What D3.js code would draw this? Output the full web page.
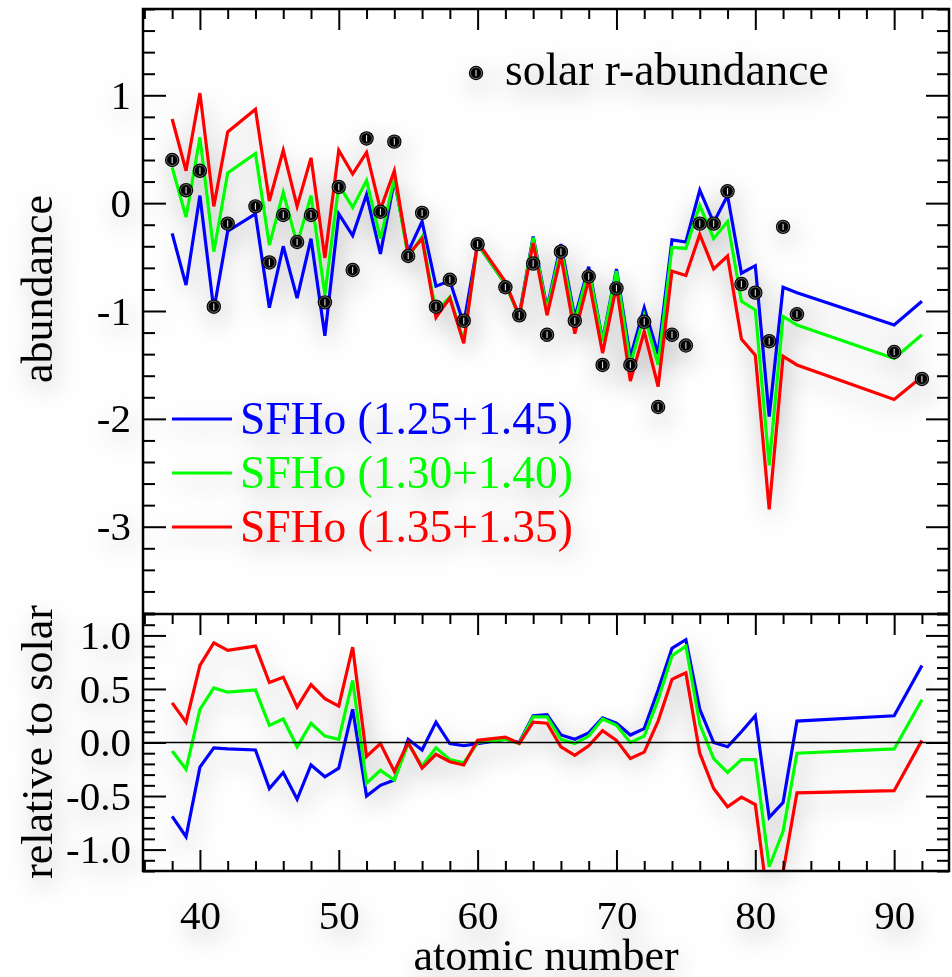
<!DOCTYPE html>
<html>
<head>
<meta charset="utf-8">
<script src="https://cdn.jsdelivr.net/npm/d3@7/dist/d3.min.js"></script>
<style>
  html, body { margin: 0; padding: 0; background: #fff; }
  svg { display: block; }
  text { font-family: "Liberation Serif", "Times New Roman", serif; }
</style>
</head>
<body>
<svg id="chart" width="952" height="977"></svg>
<script>
// atomic numbers with r-process data
const Z = [38,39,40,41,42,44,45,46,47,48,49,50,51,52,53,54,55,56,57,58,59,60,
           62,63,64,65,66,67,68,69,70,71,72,73,74,75,76,77,78,79,80,81,82,83,90,92];

// solar r-process abundances
const solar = [0.40,0.12,0.30,-0.96,-0.19,-0.03,-0.55,-0.11,-0.36,-0.11,-0.92,0.15,-0.62,0.60,-0.08,0.57,
               -0.49,-0.09,-0.96,-0.71,-1.09,-0.38,-0.78,-1.04,-0.56,-1.22,-0.45,-1.09,-0.68,-1.50,-0.79,-1.50,
               -1.10,-1.89,-1.22,-1.32,-0.19,-0.19,0.11,-0.75,-0.83,-1.28,-0.22,-1.03,-1.38,-1.63];

// model abundances
const sfho125 = [-0.28,-0.76,0.07,-0.99,-0.26,-0.10,-0.97,-0.40,-0.88,-0.33,-1.23,-0.10,-0.30,0.08,-0.47,0.21,
                 -0.45,-0.17,-0.77,-0.72,-1.12,-0.38,-0.75,-1.04,-0.31,-0.97,-0.38,-1.06,-0.59,-1.27,-0.61,-1.43,
                 -0.97,-1.40,-0.34,-0.36,0.12,-0.18,0.07,-0.65,-0.58,-1.98,-0.78,-0.83,-1.13,-0.91];
const sfho130 = [0.33,-0.13,0.61,-0.45,0.28,0.46,-0.39,0.10,-0.38,0.07,-0.85,0.17,-0.04,0.21,-0.33,0.23,
                 -0.50,-0.31,-1.01,-0.87,-1.28,-0.38,-0.75,-1.05,-0.32,-0.99,-0.42,-1.10,-0.62,-1.28,-0.63,-1.50,
                 -1.04,-1.50,-0.41,-0.42,-0.02,-0.33,-0.17,-0.91,-0.99,-2.43,-1.05,-1.13,-1.44,-1.22];
const sfho135 = [0.78,0.30,1.02,-0.03,0.66,0.87,0.02,0.49,-0.03,0.42,-0.51,0.49,0.27,0.47,-0.06,0.30,
                 -0.48,-0.33,-1.06,-0.88,-1.30,-0.36,-0.73,-1.05,-0.37,-1.04,-0.49,-1.21,-0.71,-1.39,-0.77,-1.65,
                 -1.19,-1.70,-0.63,-0.67,-0.29,-0.61,-0.49,-1.26,-1.41,-2.84,-1.42,-1.50,-1.82,-1.61];

// model relative to solar
const rel125 = [-0.69,-0.88,-0.23,-0.05,-0.06,-0.07,-0.43,-0.28,-0.53,-0.21,-0.32,-0.24,0.31,-0.50,-0.40,-0.35,
                0.03,-0.07,0.19,-0.01,-0.03,-0.01,0.03,0.00,0.25,0.26,0.07,0.03,0.09,0.23,0.18,0.07,
                0.13,0.49,0.88,0.96,0.31,0.00,-0.04,0.10,0.25,-0.70,-0.56,0.20,0.25,0.72];
const rel130 = [-0.08,-0.25,0.31,0.51,0.47,0.49,0.16,0.22,-0.04,0.18,0.06,0.03,0.58,-0.38,-0.26,-0.35,
                -0.01,-0.22,-0.05,-0.16,-0.19,0.00,0.03,-0.01,0.24,0.24,0.03,-0.01,0.06,0.22,0.16,0.00,
                0.06,0.40,0.81,0.90,0.17,-0.15,-0.28,-0.16,-0.16,-1.16,-0.83,-0.10,-0.06,0.40];
const rel135 = [0.37,0.19,0.72,0.93,0.86,0.90,0.56,0.61,0.33,0.54,0.41,0.34,0.89,-0.13,-0.01,-0.27,
                0.00,-0.24,-0.11,-0.18,-0.21,0.02,0.05,-0.01,0.19,0.18,-0.04,-0.12,-0.03,0.11,0.02,-0.15,
                -0.09,0.20,0.59,0.65,-0.10,-0.43,-0.60,-0.51,-0.58,-1.57,-1.21,-0.47,-0.45,0.02];

const seriesNames = ["SFHo (1.25+1.45)", "SFHo (1.30+1.40)", "SFHo (1.35+1.35)"];
const seriesColors = ["#0000ff", "#00ff00", "#ff0000"];
const topSeries = [sfho125, sfho130, sfho135];
const relSeries = [rel125, rel130, rel135];

const xTicksMajor = [40, 50, 60, 70, 80, 90];
const yTopTicks = [1, 0, -1, -2, -3];
const yBotTicks = [1.0, 0.5, 0.0, -0.5, -1.0];

const svg = d3.select("#chart");
const L = 143, R = 949;
const topT = 9, topB = 613, botT = 614, botB = 871;

const x = d3.scaleLinear().domain([35.9, 93.95]).range([L, R]);
const yTop = d3.scaleLinear().domain([-3.8, 1.8]).range([topB, topT]);
const yBot = d3.scaleLinear().domain([-1.2, 1.2]).range([botB, botT]);

// soft shadow used around drawn content
const defs = svg.append("defs");
const f = defs.append("filter").attr("id", "haze")
  .attr("x", "-20%").attr("y", "-20%").attr("width", "140%").attr("height", "140%");
f.append("feGaussianBlur").attr("in", "SourceAlpha").attr("stdDeviation", 13).attr("result", "b");
f.append("feOffset").attr("in", "b").attr("dx", 3).attr("dy", 9).attr("result", "o");
f.append("feFlood").attr("flood-color", "#000").attr("flood-opacity", 0.3).attr("result", "c");
f.append("feComposite").attr("in", "c").attr("in2", "o").attr("operator", "in").attr("result", "s");
const fm = f.append("feMerge");
fm.append("feMergeNode").attr("in", "s");
fm.append("feMergeNode").attr("in", "SourceGraphic");

defs.append("clipPath").attr("id", "clipTop").append("rect")
  .attr("x", L).attr("y", topT).attr("width", R - L).attr("height", topB - topT);
defs.append("clipPath").attr("id", "clipBot").append("rect")
  .attr("x", L).attr("y", botT).attr("width", R - L).attr("height", botB - botT);

const content = svg.append("g").attr("filter", "url(#haze)");

function range(a, b, s) { const r = []; for (let v = a; v <= b + 1e-9; v += s) r.push(+v.toFixed(3)); return r; }

// axis helper: draws major + minor inward ticks via d3 axes
function ticks(axisFn, scale, pos, major, minor, majLen, minLen, labels, fmt, pad) {
  const gMin = svg.append("g").attr("transform", pos)
    .call(axisFn(scale).tickValues(minor).tickSize(-minLen).tickFormat(""));
  gMin.select(".domain").remove();
  gMin.selectAll("line").attr("stroke", "#000").attr("stroke-width", 2);
  const gMaj = (labels ? content : svg).append("g").attr("transform", pos)
    .call(axisFn(scale).tickValues(major).tickSize(-majLen).tickPadding(pad || 0)
      .tickFormat(labels ? fmt : ""));
  gMaj.select(".domain").remove();
  gMaj.selectAll("line").attr("stroke", "#000").attr("stroke-width", 2);
  gMaj.selectAll("text").attr("font-size", 41).attr("font-family", "Liberation Serif").attr("fill", "#000");
  return gMaj;
}

const xMinor = range(36, 92, 2).filter(v => v % 10 !== 0);

// top panel axes
const topMinor = range(-3.8, 1.8, 0.2).filter(v => Math.abs(v - Math.round(v)) > 1e-6);
ticks(d3.axisLeft, yTop, `translate(${L},0)`, yTopTicks, topMinor, 23, 12, true,
      d => d3.format("d")(d).replace("−", "-"), 12);
ticks(d3.axisRight, yTop, `translate(${R},0)`, yTopTicks, topMinor, 23, 12, false);
ticks(d3.axisTop, x, `translate(0,${topT})`, xTicksMajor, xMinor, 21, 10, false);

// bottom panel axes
const botMinor = range(-1.2, 1.2, 0.1).filter(v => Math.abs(v * 2 - Math.round(v * 2)) > 1e-6);
ticks(d3.axisLeft, yBot, `translate(${L},0)`, yBotTicks, botMinor, 23, 12, true,
      d => d3.format(".1f")(d).replace("−", "-"), 12);
ticks(d3.axisRight, yBot, `translate(${R},0)`, yBotTicks, botMinor, 23, 12, false);
ticks(d3.axisTop, x, `translate(0,${botT})`, xTicksMajor, xMinor, 21, 10, false);
ticks(d3.axisBottom, x, `translate(0,${botB})`, xTicksMajor, xMinor, 21, 10, true, d3.format("d"), 29);

// frames
svg.append("rect").attr("x", L).attr("y", topT).attr("width", R - L).attr("height", botB - topT)
  .attr("fill", "none").attr("stroke", "#000").attr("stroke-width", 2.5);
svg.append("line").attr("x1", L).attr("x2", R).attr("y1", botT).attr("y2", botT)
  .attr("stroke", "#000").attr("stroke-width", 2.5);

// zero line in the ratio panel
svg.append("line").attr("x1", L).attr("x2", R).attr("y1", yBot(0)).attr("y2", yBot(0))
  .attr("stroke", "#000").attr("stroke-width", 1.5);

// model curves
const lineTop = d3.line().x((d, i) => x(Z[i])).y(d => yTop(d));
const lineBot = d3.line().x((d, i) => x(Z[i])).y(d => yBot(d));

const gTop = content.append("g").attr("clip-path", "url(#clipTop)");
topSeries.forEach((s, k) => {
  gTop.append("path").attr("d", lineTop(s)).attr("fill", "none")
    .attr("stroke", seriesColors[k]).attr("stroke-width", 3.2).attr("stroke-linejoin", "miter");
});
const gBot = content.append("g").attr("clip-path", "url(#clipBot)");
relSeries.forEach((s, k) => {
  gBot.append("path").attr("d", lineBot(s)).attr("fill", "none")
    .attr("stroke", seriesColors[k]).attr("stroke-width", 3.2).attr("stroke-linejoin", "miter");
});

// solar symbol
function solarMark(g, cx, cy) {
  const m = g.append("g").attr("transform", `translate(${cx},${cy})`);
  m.append("circle").attr("r", 7.2).attr("fill", "#000");
  m.append("circle").attr("r", 5.6).attr("fill", "none").attr("stroke", "#888").attr("stroke-width", 0.8);
  m.append("line").attr("x1", 0).attr("x2", 0).attr("y1", -3.2).attr("y2", 3.2)
    .attr("stroke", "#ddd").attr("stroke-width", 1.1);
}
const gPts = content.append("g");
solar.forEach((v, i) => solarMark(gPts, x(Z[i]), yTop(v)));

// legends
solarMark(content, 476, 73);
content.append("text").attr("x", 505).attr("y", 85).attr("font-size", 45.5).attr("fill", "#000")
  .text("solar r-abundance");

seriesNames.forEach((name, k) => {
  const yy = 419 + k * 54;
  content.append("line").attr("x1", 172).attr("x2", 232).attr("y1", yy).attr("y2", yy)
    .attr("stroke", seriesColors[k]).attr("stroke-width", 3.2);
  content.append("text").attr("x", 240).attr("y", yy + 15).attr("font-size", 45.5)
    .attr("fill", seriesColors[k]).text(name);
});

// axis titles
content.append("text").attr("transform", "translate(52,289) rotate(-90)")
  .attr("text-anchor", "middle").attr("font-size", 44).attr("fill", "#000").text("abundance");
content.append("text").attr("transform", "translate(52,742) rotate(-90)")
  .attr("text-anchor", "middle").attr("font-size", 44).attr("fill", "#000").text("relative to solar");
content.append("text").attr("x", (L + R) / 2).attr("y", 970)
  .attr("text-anchor", "middle").attr("font-size", 44).attr("fill", "#000").text("atomic number");
</script>
</body>
</html>
